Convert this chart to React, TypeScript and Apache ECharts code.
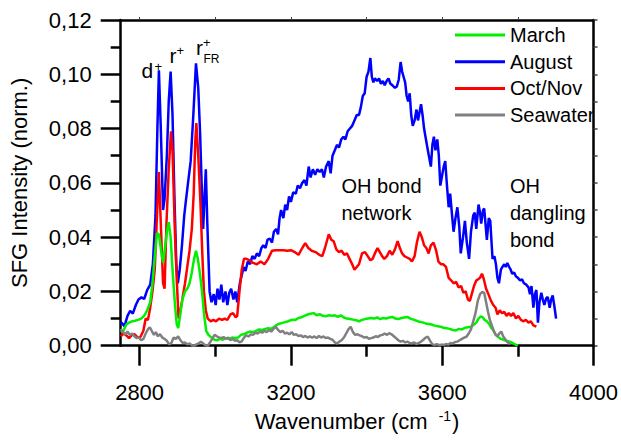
import React, { useEffect, useRef } from "react";
import * as echarts from "echarts";

const FONT = "'Liberation Sans', Arial, sans-serif";

const seriesNames = ["March", "August", "Oct/Nov", "Seawater"];
const seriesColors = ["#00f000", "#0000ff", "#ff0000", "#808080"];

const xMajorTicks = [2800, 3200, 3600, 4000];
const xMinorTicks = [3000, 3400, 3800];
const xTopTicks = [2800, 3000, 3200, 3400, 3600, 3800];

// August (blue)
const augustData: [number, number][] = [
  [2750, 0.0088], [2760, 0.0072], [2768, 0.011], [2775, 0.0128], [2782, 0.0118], [2790, 0.015], [2797, 0.017],
  [2805, 0.0178], [2812, 0.0172], [2820, 0.0205], [2828, 0.0225], [2835, 0.03], [2842, 0.048], [2847, 0.08],
  [2851, 0.1015], [2856, 0.08], [2862, 0.05], [2866, 0.054], [2872, 0.07], [2877, 0.09], [2882, 0.101],
  [2887, 0.085], [2892, 0.055], [2897, 0.03], [2901, 0.023], [2906, 0.028], [2912, 0.037], [2918, 0.048],
  [2922, 0.053], [2928, 0.06], [2935, 0.068], [2942, 0.085], [2949, 0.104], [2955, 0.095], [2960, 0.078],
  [2965, 0.055], [2968, 0.043], [2972, 0.056], [2975, 0.065], [2979, 0.045], [2985, 0.02], [2990, 0.016],
  [2996, 0.019], [3001, 0.015], [3006, 0.021], [3011, 0.017], [3016, 0.0225], [3021, 0.016], [3027, 0.02],
  [3032, 0.015], [3037, 0.0195], [3042, 0.021], [3048, 0.017], [3053, 0.02], [3058, 0.016], [3065, 0.023],
  [3070, 0.026], [3075, 0.029], [3080, 0.0275], [3086, 0.031], [3092, 0.03], [3098, 0.033], [3104, 0.032],
  [3110, 0.034], [3116, 0.033], [3122, 0.036], [3127, 0.037], [3133, 0.036], [3138, 0.039], [3144, 0.0395],
  [3150, 0.038], [3155, 0.042], [3161, 0.043], [3166, 0.041], [3170, 0.047], [3174, 0.05], [3180, 0.047],
  [3185, 0.052], [3190, 0.05], [3195, 0.055], [3200, 0.053], [3206, 0.0565], [3213, 0.056], [3218, 0.059],
  [3224, 0.058], [3230, 0.06], [3236, 0.061], [3241, 0.059], [3247, 0.066], [3252, 0.062], [3258, 0.065],
  [3264, 0.063], [3270, 0.065], [3276, 0.064], [3282, 0.065], [3287, 0.062], [3293, 0.066], [3300, 0.068],
  [3305, 0.0635], [3310, 0.07], [3316, 0.072], [3322, 0.074], [3327, 0.073], [3333, 0.076], [3339, 0.077],
  [3344, 0.076], [3350, 0.079], [3356, 0.08], [3362, 0.081], [3368, 0.083], [3374, 0.085], [3380, 0.085],
  [3385, 0.088], [3390, 0.092], [3395, 0.093], [3400, 0.099], [3405, 0.101], [3410, 0.106], [3414, 0.099],
  [3418, 0.097], [3422, 0.0985], [3428, 0.0975], [3433, 0.0985], [3438, 0.0965], [3443, 0.0975], [3448, 0.096],
  [3453, 0.0975], [3458, 0.0985], [3463, 0.0965], [3468, 0.096], [3475, 0.095], [3480, 0.0955], [3485, 0.098],
  [3490, 0.1045], [3494, 0.101], [3498, 0.099], [3502, 0.097], [3506, 0.092], [3510, 0.09], [3514, 0.093],
  [3518, 0.085], [3522, 0.081], [3527, 0.083], [3532, 0.087], [3536, 0.083], [3540, 0.086], [3544, 0.089],
  [3548, 0.085], [3552, 0.08], [3557, 0.076], [3562, 0.072], [3566, 0.069], [3570, 0.066], [3574, 0.074],
  [3578, 0.077], [3582, 0.072], [3587, 0.076], [3591, 0.07], [3595, 0.059], [3600, 0.063], [3604, 0.066],
  [3608, 0.068], [3612, 0.06], [3617, 0.051], [3621, 0.056], [3626, 0.048], [3630, 0.042], [3635, 0.047],
  [3640, 0.051], [3645, 0.044], [3649, 0.034], [3655, 0.04], [3660, 0.046], [3665, 0.038], [3671, 0.032],
  [3676, 0.042], [3682, 0.048], [3686, 0.049], [3690, 0.043], [3696, 0.052], [3700, 0.049], [3703, 0.045],
  [3708, 0.05], [3711, 0.0505], [3715, 0.044], [3718, 0.039], [3723, 0.047], [3727, 0.046], [3733, 0.032],
  [3738, 0.033], [3742, 0.03], [3746, 0.025], [3750, 0.023], [3755, 0.028], [3759, 0.029], [3764, 0.03],
  [3768, 0.029], [3772, 0.0305], [3777, 0.029], [3781, 0.028], [3785, 0.0265], [3790, 0.027], [3795, 0.0255],
  [3800, 0.025], [3806, 0.024], [3811, 0.0245], [3816, 0.023], [3822, 0.0225], [3828, 0.0215], [3832, 0.019],
  [3836, 0.022], [3841, 0.014], [3845, 0.019], [3849, 0.0205], [3853, 0.0085], [3857, 0.016], [3862, 0.0195],
  [3866, 0.017], [3870, 0.015], [3875, 0.0175], [3879, 0.018], [3884, 0.014], [3888, 0.017], [3892, 0.0185],
  [3896, 0.015], [3901, 0.01],
];

// Oct/Nov (red)
const octNovData: [number, number][] = [
  [2750, 0.0035], [2758, 0.0045], [2765, 0.0038], [2772, 0.0028], [2780, 0.004], [2787, 0.0042], [2795, 0.003],
  [2802, 0.0032], [2810, 0.0055], [2816, 0.01], [2822, 0.0095], [2828, 0.014], [2834, 0.02], [2840, 0.028],
  [2845, 0.045], [2851, 0.064], [2856, 0.045], [2862, 0.023], [2866, 0.021], [2871, 0.045], [2877, 0.065],
  [2883, 0.079], [2887, 0.072], [2893, 0.043], [2898, 0.025], [2903, 0.01], [2908, 0.013], [2914, 0.018],
  [2920, 0.023], [2926, 0.029], [2932, 0.035], [2938, 0.043], [2943, 0.056], [2947, 0.075], [2950, 0.082],
  [2955, 0.07], [2961, 0.052], [2966, 0.033], [2970, 0.02], [2975, 0.013], [2980, 0.01], [2988, 0.009],
  [2995, 0.0095], [3002, 0.009], [3010, 0.01], [3018, 0.0095], [3025, 0.01], [3032, 0.0095], [3040, 0.0115],
  [3047, 0.012], [3054, 0.0105], [3058, 0.011], [3064, 0.02], [3070, 0.028], [3076, 0.032], [3082, 0.032],
  [3090, 0.0315], [3100, 0.0305], [3110, 0.03], [3120, 0.031], [3130, 0.03], [3140, 0.032], [3150, 0.035],
  [3160, 0.0352], [3170, 0.0352], [3180, 0.0352], [3190, 0.035], [3200, 0.0352], [3210, 0.0345], [3220, 0.0335],
  [3230, 0.036], [3238, 0.0378], [3246, 0.036], [3255, 0.035], [3265, 0.0345], [3275, 0.0335], [3283, 0.033],
  [3290, 0.036], [3300, 0.041], [3307, 0.039], [3313, 0.0385], [3320, 0.0355], [3327, 0.0345], [3334, 0.035],
  [3341, 0.0335], [3348, 0.034], [3355, 0.032], [3362, 0.03], [3368, 0.028], [3374, 0.029], [3380, 0.03],
  [3388, 0.034], [3396, 0.0345], [3403, 0.033], [3410, 0.0315], [3416, 0.032], [3422, 0.034], [3429, 0.036],
  [3435, 0.0345], [3441, 0.033], [3447, 0.032], [3454, 0.033], [3461, 0.035], [3468, 0.0335], [3475, 0.0355],
  [3482, 0.0385], [3488, 0.036], [3494, 0.034], [3500, 0.033], [3507, 0.0325], [3514, 0.032], [3520, 0.031],
  [3527, 0.033], [3533, 0.038], [3540, 0.042], [3546, 0.04], [3552, 0.037], [3558, 0.036], [3564, 0.034],
  [3570, 0.037], [3577, 0.038], [3584, 0.035], [3590, 0.031], [3597, 0.03], [3603, 0.03], [3610, 0.029],
  [3617, 0.025], [3624, 0.024], [3630, 0.023], [3637, 0.0235], [3643, 0.0215], [3650, 0.022], [3656, 0.0195],
  [3662, 0.02], [3668, 0.017], [3673, 0.0165], [3678, 0.019], [3684, 0.022], [3690, 0.024], [3695, 0.0245],
  [3700, 0.025], [3705, 0.0265], [3710, 0.0245], [3716, 0.021], [3722, 0.019], [3729, 0.0165], [3735, 0.015],
  [3741, 0.014], [3746, 0.0115], [3752, 0.013], [3758, 0.012], [3764, 0.0125], [3770, 0.011], [3776, 0.012],
  [3782, 0.011], [3788, 0.012], [3795, 0.01], [3801, 0.011], [3808, 0.0095], [3815, 0.009], [3821, 0.0095],
  [3828, 0.0085], [3834, 0.009], [3841, 0.0075], [3849, 0.007],
];

// March (green)
const marchData: [number, number][] = [
  [2750, 0.005], [2757, 0.0055], [2765, 0.0078], [2772, 0.0085], [2780, 0.009], [2788, 0.0092], [2796, 0.0095],
  [2804, 0.01], [2812, 0.011], [2820, 0.013], [2828, 0.016], [2834, 0.023], [2840, 0.033], [2846, 0.0415],
  [2851, 0.041], [2857, 0.035], [2862, 0.0305], [2867, 0.036], [2872, 0.042], [2877, 0.0455], [2882, 0.04],
  [2887, 0.028], [2893, 0.016], [2898, 0.008], [2902, 0.0065], [2907, 0.011], [2913, 0.017], [2920, 0.02],
  [2926, 0.021], [2932, 0.023], [2938, 0.027], [2944, 0.032], [2949, 0.035], [2954, 0.032], [2960, 0.026],
  [2965, 0.02], [2970, 0.012], [2976, 0.0055], [2982, 0.004], [2990, 0.003], [2998, 0.0022], [3005, 0.002],
  [3012, 0.0025], [3020, 0.0022], [3028, 0.0028], [3036, 0.0025], [3044, 0.003], [3052, 0.0028], [3060, 0.003],
  [3068, 0.004], [3076, 0.0042], [3084, 0.0048], [3092, 0.0052], [3100, 0.005], [3108, 0.0055], [3116, 0.006],
  [3124, 0.0058], [3132, 0.0062], [3140, 0.0064], [3148, 0.0062], [3156, 0.007], [3164, 0.0078], [3172, 0.0082],
  [3180, 0.0085], [3188, 0.0088], [3196, 0.0092], [3204, 0.0096], [3212, 0.0095], [3220, 0.0102], [3228, 0.0105],
  [3236, 0.011], [3244, 0.0115], [3252, 0.0118], [3260, 0.012], [3268, 0.0112], [3276, 0.0116], [3284, 0.011],
  [3292, 0.0108], [3300, 0.0112], [3308, 0.011], [3316, 0.0112], [3324, 0.0106], [3332, 0.0112], [3340, 0.0104],
  [3348, 0.01], [3356, 0.0098], [3364, 0.0096], [3372, 0.0094], [3380, 0.009], [3388, 0.0095], [3396, 0.0098],
  [3404, 0.01], [3412, 0.0102], [3420, 0.01], [3428, 0.0104], [3436, 0.0098], [3444, 0.0102], [3452, 0.01],
  [3460, 0.0104], [3468, 0.0106], [3476, 0.01], [3484, 0.0098], [3492, 0.0102], [3500, 0.0104], [3508, 0.0106],
  [3516, 0.01], [3524, 0.0096], [3532, 0.0092], [3540, 0.0088], [3548, 0.0086], [3556, 0.0082], [3564, 0.008],
  [3572, 0.0078], [3580, 0.0074], [3588, 0.0072], [3596, 0.007], [3604, 0.0066], [3612, 0.0064], [3620, 0.0062],
  [3628, 0.0058], [3636, 0.0056], [3644, 0.0062], [3652, 0.006], [3660, 0.0066], [3668, 0.0068], [3676, 0.007],
  [3684, 0.0078], [3690, 0.0085], [3696, 0.01], [3702, 0.0108], [3707, 0.0105], [3712, 0.0095], [3718, 0.009],
  [3724, 0.008], [3730, 0.0065], [3736, 0.0055], [3742, 0.004], [3748, 0.0032], [3755, 0.0025], [3762, 0.0022],
  [3770, 0.0018], [3778, 0.0015], [3786, 0.001], [3794, 0.0004], [3800, 0.0],
];

// Seawater (gray)
const seawaterData: [number, number][] = [
  [2750, 0.0062], [2756, 0.005], [2762, 0.0042], [2768, 0.0052], [2774, 0.004], [2780, 0.0045], [2786, 0.0035],
  [2792, 0.0028], [2798, 0.003], [2804, 0.002], [2810, 0.0025], [2816, 0.0045], [2822, 0.006], [2827, 0.0068],
  [2832, 0.0055], [2838, 0.004], [2843, 0.005], [2848, 0.0035], [2854, 0.0042], [2860, 0.003], [2866, 0.0025],
  [2872, 0.0018], [2878, 0.0005], [2884, 0.001], [2890, 0.003], [2896, 0.0025], [2902, 0.0034], [2908, 0.002],
  [2914, 0.001], [2920, 0.0012], [2926, 0.0005], [2932, 0.0008], [2938, 0.0002], [2944, 0.0], [2950, 0.0005],
  [2956, 0.0008], [2962, 0.0015], [2968, 0.0008], [2974, 0.0002], [2980, 0.0], [2986, 0.0012], [2992, 0.0025],
  [2998, 0.004], [3004, 0.0035], [3010, 0.003], [3016, 0.0028], [3022, 0.0032], [3028, 0.0025], [3034, 0.003],
  [3040, 0.002], [3046, 0.0025], [3052, 0.0018], [3058, 0.002], [3064, 0.0012], [3070, 0.0016], [3076, 0.003],
  [3082, 0.0038], [3088, 0.0034], [3094, 0.0042], [3100, 0.004], [3106, 0.0048], [3112, 0.0045], [3118, 0.0052],
  [3124, 0.0048], [3130, 0.0055], [3136, 0.005], [3142, 0.0058], [3148, 0.0052], [3154, 0.0062], [3160, 0.007],
  [3166, 0.0058], [3172, 0.005], [3178, 0.0055], [3184, 0.0045], [3190, 0.0048], [3196, 0.0042], [3202, 0.005],
  [3208, 0.004], [3214, 0.0042], [3220, 0.0036], [3226, 0.0038], [3232, 0.0032], [3238, 0.0036], [3244, 0.003],
  [3250, 0.0034], [3256, 0.003], [3262, 0.0034], [3268, 0.0028], [3274, 0.0036], [3280, 0.003], [3286, 0.0034],
  [3292, 0.0028], [3298, 0.003], [3304, 0.0025], [3310, 0.0022], [3316, 0.0012], [3322, 0.0008], [3328, 0.0015],
  [3334, 0.002], [3340, 0.003], [3346, 0.0045], [3352, 0.006], [3358, 0.007], [3364, 0.005], [3370, 0.004],
  [3376, 0.0042], [3382, 0.0038], [3388, 0.0035], [3394, 0.003], [3400, 0.0032], [3406, 0.0025], [3412, 0.0028],
  [3418, 0.003], [3424, 0.0035], [3430, 0.0032], [3436, 0.0038], [3442, 0.004], [3448, 0.0045], [3454, 0.004],
  [3460, 0.0046], [3466, 0.0042], [3472, 0.0035], [3478, 0.0028], [3484, 0.002], [3490, 0.0015], [3496, 0.0018],
  [3502, 0.0012], [3508, 0.0015], [3514, 0.001], [3520, 0.0009], [3526, 0.0012], [3532, 0.0006], [3538, 0.001],
  [3544, 0.0015], [3550, 0.0022], [3556, 0.003], [3562, 0.0033], [3568, 0.0018], [3574, 0.0005], [3580, 0.0003],
  [3586, 0.0006], [3592, 0.0002], [3598, 0.0004], [3604, 0.0003], [3610, 0.0006], [3616, 0.0004], [3622, 0.001],
  [3628, 0.0008], [3634, 0.0014], [3640, 0.0015], [3646, 0.002], [3652, 0.0025], [3658, 0.003], [3664, 0.0033],
  [3670, 0.0045], [3676, 0.006], [3682, 0.009], [3688, 0.012], [3694, 0.0165], [3700, 0.019], [3706, 0.0198],
  [3711, 0.0195], [3716, 0.016], [3721, 0.0125], [3726, 0.0095], [3731, 0.0075], [3736, 0.0055], [3741, 0.004],
  [3746, 0.0035], [3751, 0.0045], [3756, 0.0052], [3761, 0.0035], [3766, 0.0025], [3771, 0.0015], [3776, 0.0009],
  [3780, 0.0005],
];

const axisColor = "#000";
const axisW = 2.5;

function txt(text: string, x: number, y: number, size: number, align = "left") {
  return {
    type: "text",
    x,
    y,
    silent: true,
    style: {
      text,
      fill: "#000",
      font: `${size}px ${FONT}`,
      align,
      verticalAlign: "middle",
    },
  };
}

export default function App() {
  const ref = useRef<HTMLDivElement>(null);
  useEffect(() => {
    if (!ref.current) return;
    const chart = echarts.init(ref.current, undefined, { renderer: "svg" });
    const lineSeries = (name: string, data: [number, number][], color: string) => ({
      name,
      type: "line",
      data,
      symbol: "none",
      showSymbol: false,
      lineStyle: { color, width: 2.5 },
      itemStyle: { color },
      xAxisIndex: 0,
      yAxisIndex: 0,
      z: 2,
    });
    chart.setOption({
      animation: false,
      backgroundColor: "#fff",
      textStyle: { fontFamily: FONT },
      grid: { left: 120.7, right: 16, top: 20, bottom: 94.3, containLabel: false },
      legend: {
        data: seriesNames,
        orient: "vertical",
        left: 455,
        top: 25,
        padding: 0,
        icon: "rect",
        itemWidth: 50,
        itemHeight: 3,
        itemGap: 6.7,
        selectedMode: false,
        textStyle: { fontSize: 20, color: "#000", fontFamily: FONT, lineHeight: 20, padding: [0, 0, 0, 0] },
      },
      xAxis: [
        {
          type: "value",
          min: 2750,
          max: 4000,
          position: "bottom",
          axisLine: { show: true, onZero: false, lineStyle: { color: axisColor, width: axisW } },
          axisTick: { show: true, customValues: xMajorTicks, length: 20, lineStyle: { color: axisColor, width: axisW } },
          axisLabel: {
            show: true,
            customValues: xMajorTicks,
            margin: 36,
            fontSize: 22,
            color: "#000",
            fontFamily: FONT,
            formatter: (v: number) => String(Math.round(v)),
          },
          splitLine: { show: false },
          name: "{n|Wavenumber (cm }{sup|-1}{n|)}",
          nameLocation: "middle",
          nameGap: 62,
          nameTextStyle: {
            fontSize: 22,
            color: "#000",
            fontFamily: FONT,
            rich: {
              n: { fontSize: 22, fontFamily: FONT, color: "#000", lineHeight: 24 },
              sup: { fontSize: 14, fontFamily: FONT, color: "#000", lineHeight: 14, padding: [0, 1, 12, 5] },
            },
          },
        },
        {
          type: "value",
          min: 2750,
          max: 4000,
          position: "bottom",
          axisLine: { show: false, onZero: false },
          axisTick: { show: true, customValues: xMinorTicks, length: 11, lineStyle: { color: axisColor, width: axisW } },
          axisLabel: { show: false },
          splitLine: { show: false },
        },
        {
          type: "value",
          min: 2750,
          max: 4000,
          position: "top",
          axisLine: { show: true, onZero: false, lineStyle: { color: axisColor, width: axisW } },
          axisTick: { show: true, customValues: xTopTicks, length: 3, lineStyle: { color: "#444", width: 1 } },
          axisLabel: { show: false },
          splitLine: { show: false },
        },
      ],
      yAxis: [
        {
          type: "value",
          min: 0,
          max: 0.12,
          interval: 0.02,
          position: "left",
          axisLine: { show: true, onZero: false, lineStyle: { color: axisColor, width: axisW } },
          axisTick: { show: true, length: 20, lineStyle: { color: axisColor, width: axisW } },
          minorTick: { show: true, splitNumber: 2, length: 10, lineStyle: { color: axisColor, width: axisW } },
          axisLabel: {
            margin: 29,
            fontSize: 22,
            color: "#000",
            fontFamily: FONT,
            formatter: (v: number) => v.toFixed(2).replace(".", ","),
          },
          splitLine: { show: false },
          minorSplitLine: { show: false },
          name: "SFG Intensity (norm.)",
          nameLocation: "middle",
          nameGap: 90,
          nameTextStyle: { fontSize: 22, color: "#000", fontFamily: FONT },
        },
        {
          type: "value",
          min: 0,
          max: 0.12,
          interval: 0.01,
          position: "right",
          axisLine: { show: true, onZero: false, lineStyle: { color: axisColor, width: axisW } },
          axisTick: { show: true, length: 4, lineStyle: { color: "#444", width: 1.5 } },
          axisLabel: { show: false },
          splitLine: { show: false },
        },
      ],
      series: [
        lineSeries("August", augustData, seriesColors[1]),
        lineSeries("Oct/Nov", octNovData, seriesColors[2]),
        lineSeries("March", marchData, seriesColors[0]),
        lineSeries("Seawater", seawaterData, seriesColors[3]),
      ],
      graphic: [
        txt("d", 141.5, 70.5, 21),
        txt("+", 154.5, 66, 13),
        txt("r", 169.5, 55.5, 21),
        txt("+", 176.5, 50, 13),
        txt("r", 196, 47.5, 21),
        txt("+", 203, 42, 13),
        txt("FR", 203.5, 58.5, 12),
        txt("OH bond", 341.5, 186, 20),
        txt("network", 341.5, 213, 20),
        txt("OH", 510, 186, 20),
        txt("dangling", 510, 213, 20),
        txt("bond", 510, 240, 20),
      ],
    });
    return () => chart.dispose();
  }, []);
  return (
    <div
      ref={ref}
      style={{ position: "fixed", left: 0, top: 0, width: 621, height: 440, background: "#fff" }}
    />
  );
}
